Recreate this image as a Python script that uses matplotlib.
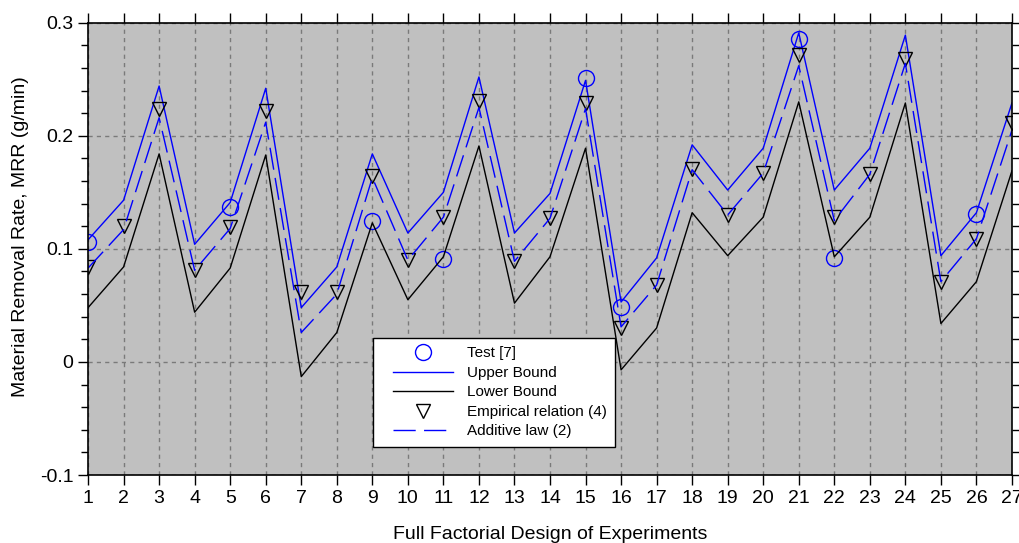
import matplotlib
matplotlib.use("Agg")
import matplotlib.pyplot as plt
from matplotlib.lines import Line2D
from matplotlib.legend_handler import HandlerLine2D
from matplotlib.ticker import MultipleLocator

plt.rcParams['font.family'] = ['Liberation Sans', 'DejaVu Sans']
plt.rcParams['axes.unicode_minus'] = False

# -------------------------------
# Data
# -------------------------------
experiments = list(range(1, 28))

upper_bound = [0.108, 0.143, 0.244, 0.104, 0.141, 0.242, 0.048, 0.084, 0.184,
               0.114, 0.150, 0.252, 0.114, 0.149, 0.249, 0.053, 0.092, 0.192,
               0.152, 0.189, 0.291, 0.152, 0.189, 0.289, 0.094, 0.132, 0.229]

lower_bound = [0.048, 0.084, 0.184, 0.044, 0.083, 0.183, -0.013, 0.026, 0.123,
               0.055, 0.093, 0.191, 0.052, 0.093, 0.189, -0.007, 0.030, 0.132,
               0.094, 0.128, 0.230, 0.093, 0.128, 0.229, 0.034, 0.071, 0.169]

empirical = [0.084, 0.120, 0.224, 0.081, 0.119, 0.222, 0.062, 0.062, 0.164,
             0.090, 0.128, 0.231, 0.089, 0.127, 0.229, 0.030, 0.068, 0.171,
             0.130, 0.167, 0.271, 0.128, 0.166, 0.268, 0.071, 0.109, 0.211]

additive = [0.083, 0.117, 0.216, 0.081, 0.118, 0.212, 0.026, 0.060, 0.163,
            0.090, 0.128, 0.225, 0.089, 0.127, 0.224, 0.031, 0.068, 0.170,
            0.130, 0.167, 0.262, 0.125, 0.166, 0.264, 0.071, 0.109, 0.205]

test_x = [1, 5, 9, 11, 15, 16, 21, 22, 26]
test_y = [0.106, 0.137, 0.125, 0.091, 0.251, 0.0485, 0.286, 0.092, 0.131]

ytick_vals = [-0.1, 0, 0.1, 0.2, 0.3]
ytick_labels = ['-0.1', '0', '0.1', '0.2', '0.3']

# -------------------------------
# Figure
# -------------------------------
fig = plt.figure(figsize=(10.19, 5.43), dpi=100)
ax = fig.add_axes([0.0864, 0.1252, 0.9067, 0.833])
ax.set_facecolor('#c0c0c0')

ax.plot(test_x, test_y, 'o', color='blue', mfc='none', ms=11.5, mew=1.0)
ax.plot(experiments, upper_bound, '-', color='blue', lw=1.0)
ax.plot(experiments, lower_bound, '-', color='black', lw=1.0)
ax.plot(experiments, empirical, 'v', color='black', mfc='none', ms=10.5, mew=1.0)
ax.plot(experiments, additive, color='blue', lw=1.0, dashes=(16, 6))

ax.set_xlim(1, 27)
ax.set_ylim(-0.1, 0.3)
ax.set_xticks(experiments)
ax.set_yticks(ytick_vals)
ax.set_yticklabels(ytick_labels)
ax.yaxis.set_minor_locator(MultipleLocator(0.02))

ax.tick_params(axis='both', which='major', direction='out', length=7, width=1,
               labelsize=14, top=True, right=True)
ax.tick_params(axis='y', which='minor', direction='out', length=5, width=1,
               left=True, right=True)

ax.set_axisbelow(True)
ax.grid(True, which='major', color='#7a7a7a', linestyle=(0, (3, 3)), lw=1.0)
for s in ax.spines.values():
    s.set_color('black')
    s.set_linewidth(1.2)

ax.set_xlabel('Full Factorial Design of Experiments', fontsize=14, labelpad=14)
ax.set_ylabel('Material Removal Rate, MRR (g/min)', fontsize=14)
ax.yaxis.set_label_coords(-0.064, 0.528)

handles = [
    Line2D([], [], ls='none', marker='o', color='blue', mfc='none', ms=11.5),
    Line2D([], [], color='blue', lw=1.0),
    Line2D([], [], color='black', lw=1.0),
    Line2D([], [], ls='none', marker='v', color='black', mfc='none', ms=10.5),
    Line2D([], [], color='blue', lw=1.0, dashes=(16, 6)),
]
labels = ['Test [7]', 'Upper Bound', 'Lower Bound', 'Empirical relation (4)', 'Additive law (2)']
leg = ax.legend(handles, labels, loc='upper left', bbox_to_anchor=(0.308, 0.303),
                borderaxespad=0, fontsize=11, frameon=True, fancybox=False,
                framealpha=1, edgecolor='black', handlelength=4.7,
                handletextpad=0.92, labelspacing=0.36, borderpad=0.55,
                handler_map={Line2D: HandlerLine2D(xpad=0.8)})
leg.get_frame().set_linewidth(1.0)

fig.savefig('out.png', dpi=100)
